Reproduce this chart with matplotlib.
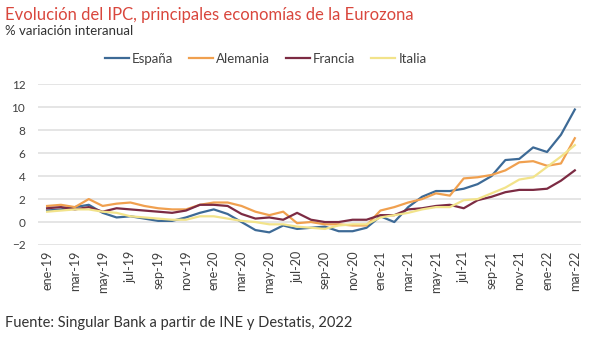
import matplotlib
matplotlib.use("Agg")
import matplotlib.pyplot as plt

plt.rcParams['font.family'] = ['Lato', 'DejaVu Sans']

meses = ["ene", "feb", "mar", "abr", "may", "jun", "jul", "ago", "sep", "oct", "nov", "dic"]
fechas = []
for anyo in ["19", "20", "21", "22"]:
    for m in meses:
        fechas.append(m + "-" + anyo)
fechas = fechas[:39]  # ene-19 .. mar-22

espana = [1.0, 1.1, 1.3, 1.5, 0.8, 0.4, 0.5, 0.3, 0.1, 0.1, 0.4, 0.8,
          1.1, 0.7, 0.0, -0.7, -0.9, -0.3, -0.6, -0.5, -0.4, -0.8, -0.8, -0.5,
          0.5, 0.0, 1.3, 2.2, 2.7, 2.7, 2.9, 3.3, 4.0, 5.4, 5.5, 6.5,
          6.1, 7.6, 9.8]
alemania = [1.4, 1.5, 1.3, 2.0, 1.4, 1.6, 1.7, 1.4, 1.2, 1.1, 1.1, 1.5,
            1.7, 1.7, 1.4, 0.9, 0.6, 0.9, -0.1, 0.0, -0.2, -0.2, -0.3, -0.3,
            1.0, 1.3, 1.7, 2.0, 2.5, 2.3, 3.8, 3.9, 4.1, 4.5, 5.2, 5.3,
            4.9, 5.1, 7.3]
francia = [1.2, 1.3, 1.1, 1.3, 0.9, 1.2, 1.1, 1.0, 0.9, 0.8, 1.0, 1.5,
           1.5, 1.4, 0.7, 0.3, 0.4, 0.2, 0.8, 0.2, 0.0, 0.0, 0.2, 0.2,
           0.6, 0.6, 1.1, 1.2, 1.4, 1.5, 1.2, 1.9, 2.2, 2.6, 2.8, 2.8,
           2.9, 3.6, 4.5]
italia = [0.9, 1.0, 1.1, 1.1, 0.9, 0.8, 0.5, 0.4, 0.3, 0.2, 0.2, 0.5,
          0.5, 0.3, 0.1, 0.0, -0.2, -0.2, -0.4, -0.5, -0.6, -0.3, -0.2, -0.2,
          0.4, 0.6, 0.8, 1.1, 1.3, 1.3, 1.9, 2.0, 2.5, 3.0, 3.7, 3.9,
          4.8, 5.7, 6.7]

x = list(range(len(fechas)))

fig = plt.figure(figsize=(6, 3.37), dpi=100)
ax = fig.add_axes([0.063, 0.273, 0.905, 0.477])

ax.plot(x, espana, color="#3d6a96", lw=1.6, label="España")
ax.plot(x, alemania, color="#f0a04f", lw=1.6, label="Alemania")
ax.plot(x, francia, color="#7c2b43", lw=1.6, label="Francia")
ax.plot(x, italia, color="#f2e38a", lw=1.6, label="Italia")

ax.set_ylim(-2, 12)
ax.set_xlim(-0.67, 38.43)
ax.set_yticks(range(-2, 13, 2))
ax.set_xticks(x[::2])
ax.set_xticklabels(fechas[::2], rotation=90, fontsize=9, color="#404040")
ax.tick_params(axis="y", labelsize=8.5, labelcolor="#404040", length=0, pad=9)
ax.tick_params(axis="x", length=0, pad=4)
ax.grid(axis="y", color="#e3e3e3", lw=1.3)
ax.set_axisbelow(True)
for s in ax.spines.values():
    s.set_visible(False)

fig.legend(loc="center left", bbox_to_anchor=(0.175, 1 - 59 / 337), ncol=4, frameon=False,
           fontsize=9.5, handlelength=1.8, columnspacing=1.2, handletextpad=0.25,
           labelcolor="#404040", borderpad=0, borderaxespad=0)

fig.text(0.008, 0.94, "Evolución del IPC, principales economías de la Eurozona",
         color="#d9473d", fontsize=12)
fig.text(0.008, 0.895, "% variación interanual", color="#333333", fontsize=9.5)
fig.text(0.008, 0.03, "Fuente: Singular Bank a partir de INE y Destatis, 2022",
         color="#333333", fontsize=10.5)

plt.savefig("out.png")
